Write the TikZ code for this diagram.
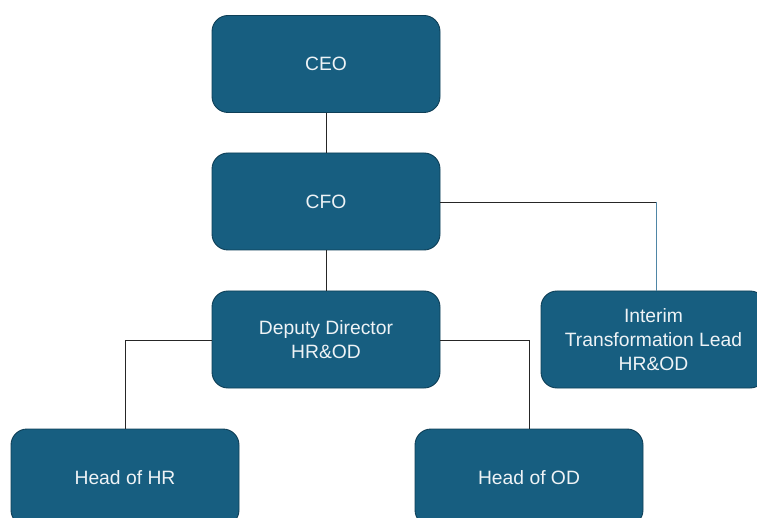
\documentclass[tikz,border=0pt]{standalone}
\usepackage{fontspec}
\setmainfont{Liberation Sans}
\begin{document}
\definecolor{boxfill}{HTML}{175E80}
\definecolor{boxline}{HTML}{0E3F57}
\definecolor{boxtext}{HTML}{EEF3F6}
\definecolor{bluelink}{HTML}{4F86A6}
\begin{tikzpicture}[x=1pt,y=-1pt,
  orgbox/.style={draw=boxline, line width=0.9pt, fill=boxfill, rounded corners=16pt,
    minimum width=228pt, minimum height=97pt, inner sep=0pt, align=center,
    text=boxtext, font=\fontsize{19.3}{24}\selectfont},
  link/.style={draw=black!85, line width=0.9pt}]
\useasboundingbox (0,0) rectangle (757,518);
\clip (0,0) rectangle (757,518);
% boxes
\node[orgbox] (ceo) at (326,64) {CEO};
\node[orgbox] (cfo) at (326,201.5) {CFO};
\node[orgbox] (dep) at (326,339.5) {Deputy Director\\HR\&OD};
\node[orgbox, minimum width=225pt] (itl) at (653.5,339.5) {Interim\\Transformation Lead\\HR\&OD};
\node[orgbox] (hhr) at (125,477.5) {Head of HR};
\node[orgbox] (hod) at (529,477.5) {Head of OD};
% reporting lines
\coordinate (bend) at (656,202);
\draw[link] (ceo.south) -- (cfo.north);
\draw[link] (cfo.south) -- (dep.north);
\draw[link] (cfo.east |- bend) -- (bend);
\draw[draw=bluelink, line width=0.9pt] (bend) -- (bend |- itl.north);
\draw[link] (dep.west |- 0,340) -| (hhr.north);
\draw[link] (dep.east |- 0,340) -| (hod.north);
\end{tikzpicture}
\end{document}
